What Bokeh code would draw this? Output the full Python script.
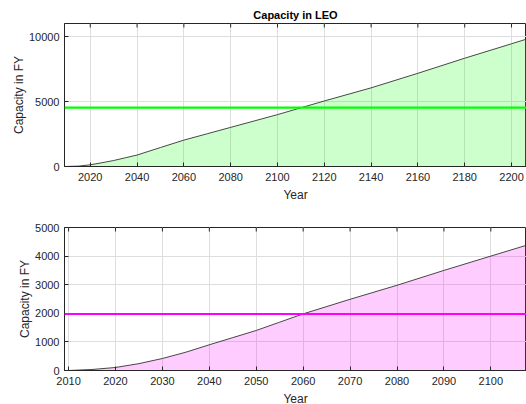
import math

from bokeh.plotting import figure
from bokeh.layouts import column
from bokeh.models import Range1d, FixedTicker, Span
from bokeh.embed import file_html
from bokeh.resources import INLINE

# Capacity in LEO (upper panel)
leo_years = [2009, 2015, 2020, 2025, 2030, 2035, 2040, 2050, 2060, 2070, 2080,
             2100, 2120, 2140, 2160, 2180, 2200, 2207]
leo_capacity = [0, 30, 130, 290, 460, 670, 880, 1460, 2030, 2520, 3010,
                3990, 5040, 6050, 7170, 8330, 9440, 9830]
leo_limit = 4530

# Second capacity series (lower panel)
fy_years = [2009, 2010, 2015, 2020, 2025, 2030, 2035, 2040, 2045, 2050, 2055,
            2060, 2070, 2080, 2090, 2100, 2108]
fy_capacity = [0, 0, 35, 105, 240, 420, 640, 900, 1150, 1400, 1690,
               1980, 2490, 2980, 3500, 4000, 4400]
fy_limit = 1975

leo_xticks = list(range(2020, 2201, 20))
leo_yticks = [0, 5000, 10000]
fy_xticks = list(range(2010, 2101, 10))
fy_yticks = list(range(0, 5001, 1000))

FONT = "Liberation Sans"
INK = "#262626"


def make_panel(years, cap, limit, color, xr, ymax, xticks, yticks,
               title=None, border_top=23, border_bottom=36):
    p = figure(frame_width=462, frame_height=143,
               x_range=Range1d(*xr), y_range=Range1d(0, ymax),
               output_backend="svg", toolbar_location=None,
               min_border_left=64, min_border_right=0,
               min_border_top=border_top, min_border_bottom=border_bottom,
               background_fill_color="white", border_fill_color="white",
               outline_line_color=INK, outline_line_width=1)

    if title:
        p.title.text = title
        p.title.align = "center"
        p.title.text_font = FONT
        p.title.text_font_size = "11px"
        p.title.text_font_style = "bold"
        p.title.text_color = "black"
        p.title.standoff = 5
        p.title.offset = 3

    # filled area under the curve with a thin dark edge
    p.varea(x=years, y1=[0] * len(years), y2=cap,
            fill_color=color, fill_alpha=0.2)
    p.line(years, cap, line_color="#333333", line_width=0.9)

    # capacity limit
    p.add_layout(Span(location=limit, dimension="width",
                      line_color=color, line_width=2.2))

    # inward tick marks along the top edge of the box
    p.ray(x=xticks, y=[ymax] * len(xticks), length=4, length_units="screen",
          angle=-math.pi / 2, line_color=INK, line_width=1)

    for ax, ticks in ((p.xaxis[0], xticks), (p.yaxis[0], yticks)):
        ax.ticker = FixedTicker(ticks=ticks)
        ax.major_tick_in = 4
        ax.major_tick_out = 0
        ax.minor_tick_line_color = None
        ax.axis_line_color = INK
        ax.major_tick_line_color = INK
        ax.major_label_text_font = FONT
        ax.major_label_text_font_size = "11px"
        ax.major_label_text_color = INK
        ax.axis_label_text_font = FONT
        ax.axis_label_text_font_size = "12px"
        ax.axis_label_text_font_style = "normal"
        ax.axis_label_text_color = INK

    p.xaxis.axis_label = "Year"
    p.xaxis.major_label_standoff = 6
    p.xaxis.axis_label_standoff = 4
    p.yaxis.axis_label = "Capacity in FY"
    p.yaxis.major_label_standoff = 5
    p.yaxis.axis_label_standoff = 0

    for g, ticks in ((p.xgrid[0], xticks), (p.ygrid[0], yticks)):
        g.ticker = FixedTicker(ticks=ticks)
        g.grid_line_color = "#dedede"
        g.grid_line_width = 1
    return p


p1 = make_panel(leo_years, leo_capacity, leo_limit, "#00ff00",
                (2009.0, 2206.4), 11000, leo_xticks, leo_yticks,
                title="Capacity in LEO", border_top=23, border_bottom=36)
p2 = make_panel(fy_years, fy_capacity, fy_limit, "#ff00ff",
                (2009.13, 2107.6), 5000, fy_xticks, fy_yticks,
                border_top=23, border_bottom=36)

layout = column(p1, p2, spacing=0)
open("out.html", "w").write(file_html(layout, INLINE))
